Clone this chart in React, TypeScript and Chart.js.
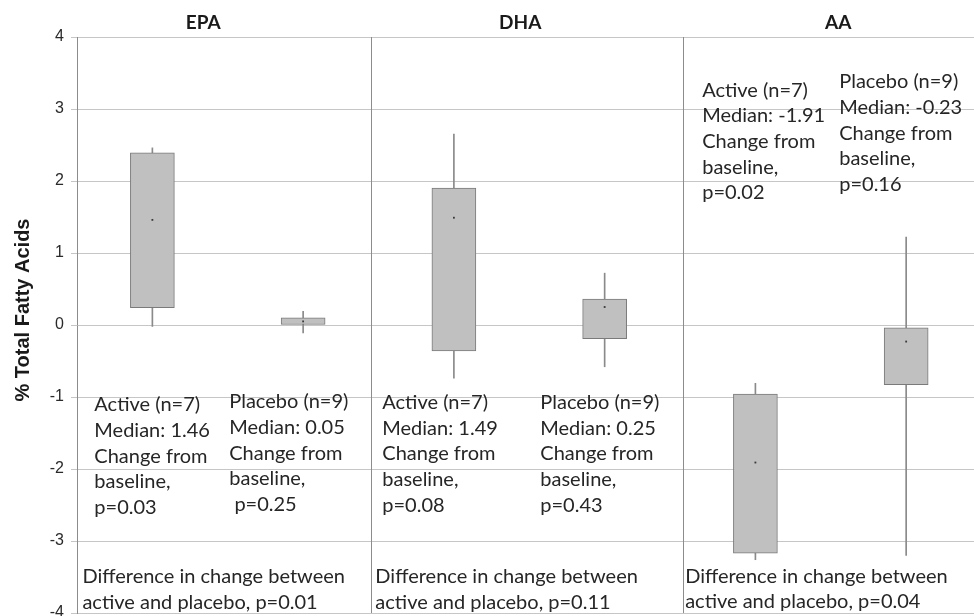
import React, { useEffect, useRef } from "react";
import { Chart, registerables } from "chart.js";

Chart.register(...registerables);

// ---- data ----
const groups = ["EPA Active", "EPA Placebo", "DHA Active", "DHA Placebo", "AA Active", "AA Placebo"];
const groupX = [0, 1, 2, 3, 4, 5];
const whiskerLow = [-0.02, -0.11, -0.74, -0.58, -3.26, -3.2];
const boxLow = [0.24, 0.0, -0.36, -0.19, -3.17, -0.83];
const boxHigh = [2.39, 0.1, 1.9, 0.36, -0.96, -0.04];
const whiskerHigh = [2.46, 0.19, 2.65, 0.72, -0.81, 1.22];
const medians = [1.46, 0.05, 1.49, 0.25, -1.91, -0.23];

const panelTitles = ["EPA", "DHA", "AA"];
const panelTitleX = [0.338, 2.44, 4.55];
const panelDividers = [1.452, 3.52];
const yTicks = [-4, -3, -2, -1, 0, 1, 2, 3, 4];
const yAxisTitle = "% Total Fatty Acids";

const noteTexts: string[][] = [
  ["Active (n=7)", "Median: 1.46", "Change from", "baseline,", "p=0.03"],
  ["Placebo (n=9)", "Median: 0.05", "Change from", "baseline,", " p=0.25"],
  ["Active (n=7)", "Median: 1.49", "Change from", "baseline,", "p=0.08"],
  ["Placebo (n=9)", "Median: 0.25", "Change from", "baseline,", "p=0.43"],
  ["Active (n=7)", "Median: -1.91", "Change from", "baseline,", "p=0.02"],
  ["Placebo (n=9)", "Median: -0.23", "Change from", "baseline,", "p=0.16"],
  ["Difference in change between", "active and placebo, p=0.01"],
  ["Difference in change between", "active and placebo, p=0.11"],
  ["Difference in change between", "active and placebo, p=0.04"],
];
const noteX = [-0.385, 0.51, 1.525, 2.573, 3.647, 4.556, -0.464, 1.479, 3.534];
const noteY = [-1.11, -1.07, -1.08, -1.08, 3.26, 3.375, -3.5, -3.5, -3.49];

const annotationPlugin = {
  id: "annotations",
  afterDraw(chart: any) {
    const { ctx, scales, chartArea } = chart;
    const xs = scales.x;
    const ys = scales.y;
    ctx.save();
    // panel dividers
    ctx.strokeStyle = "#8c8c8c";
    ctx.lineWidth = 1;
    panelDividers.forEach((d) => {
      const px = Math.round(xs.getPixelForValue(d)) + 0.5;
      ctx.beginPath();
      ctx.moveTo(px, ys.getPixelForValue(4));
      ctx.lineTo(px, ys.getPixelForValue(-4));
      ctx.stroke();
    });
    // panel titles
    ctx.fillStyle = "#1a1a1a";
    ctx.font = "bold 19px Lato";
    ctx.textAlign = "center";
    ctx.textBaseline = "middle";
    panelTitles.forEach((t, i) => {
      ctx.fillText(t, xs.getPixelForValue(panelTitleX[i]), chartArea.top - 14);
    });
    // notes
    ctx.font = "20px Lato";
    ctx.fillStyle = "#262626";
    ctx.textAlign = "left";
    ctx.textBaseline = "middle";
    noteTexts.forEach((lines, i) => {
      const x0 = xs.getPixelForValue(noteX[i]);
      const y0 = ys.getPixelForValue(noteY[i]);
      lines.forEach((ln, j) => {
        ctx.fillText(ln, x0, y0 + j * 25.6);
      });
    });
    // y axis title
    ctx.font = "bold 20px 'Liberation Sans', Arial, sans-serif";
    ctx.fillStyle = "#1a1a1a";
    ctx.textAlign = "center";
    ctx.textBaseline = "middle";
    ctx.translate(23, (chartArea.top + chartArea.bottom) / 2 - 15);
    ctx.rotate(-Math.PI / 2);
    ctx.fillText(yAxisTitle, 0, 0);
    ctx.restore();
  },
};

export default function App() {
  const ref = useRef<HTMLCanvasElement | null>(null);
  useEffect(() => {
    if (!ref.current) return;
    const chart = new Chart(ref.current, {
      type: "bar",
      data: {
        labels: groups,
        datasets: [
          {
            type: "scatter",
            label: "Median",
            data: groupX.map((x, i) => ({ x, y: medians[i] })),
            pointStyle: "rect",
            radius: 1.3,
            backgroundColor: "#3a3a3a",
            borderColor: "#3a3a3a",
            borderWidth: 0,
            order: 0,
          } as any,
          {
            label: "IQR",
            data: groupX.map((x, i) => ({ x, y: [boxLow[i], boxHigh[i]] })),
            backgroundColor: "#c0c0c0",
            borderColor: "#7a7a7a",
            borderWidth: 1,
            borderSkipped: false,
            barThickness: 44,
            grouped: false,
            order: 1,
          } as any,
          {
            label: "Range",
            data: groupX.map((x, i) => ({ x, y: [whiskerLow[i], whiskerHigh[i]] })),
            backgroundColor: "#8a8a8a",
            borderWidth: 0,
            barThickness: 1,
            grouped: false,
            order: 2,
          } as any,
        ],
      },
      options: {
        animation: false,
        responsive: false,
        layout: { autoPadding: false, padding: { left: 0, top: 37, right: 0, bottom: 3 } },
        plugins: { legend: { display: false }, tooltip: { enabled: false } },
        scales: {
          x: { type: "linear", min: -0.5, max: 5.45, offset: false, display: false },
          y: {
            type: "linear",
            min: -4,
            max: 4,
            afterBuildTicks: (s: any) => {
              s.ticks = yTicks.map((v) => ({ value: v }));
            },
            afterFit: (s: any) => {
              s.width = 77;
              s.paddingTop = 0;
              s.paddingBottom = 0;
            },
            ticks: {
              font: { family: "'Liberation Sans', Arial, sans-serif", size: 16 },
              color: "#2a2a2a",
              padding: 7,
            },
            grid: { color: "#c6c6c6", tickLength: 6, lineWidth: 1 },
            border: { color: "#8c8c8c", width: 1 },
          },
        },
      } as any,
      plugins: [annotationPlugin],
    });
    return () => chart.destroy();
  }, []);
  return (
    <div style={{ position: "absolute", left: 0, top: 0, width: 974, height: 616, background: "#fff" }}>
      <canvas ref={ref} width={974} height={616} style={{ display: "block" }} />
    </div>
  );
}
